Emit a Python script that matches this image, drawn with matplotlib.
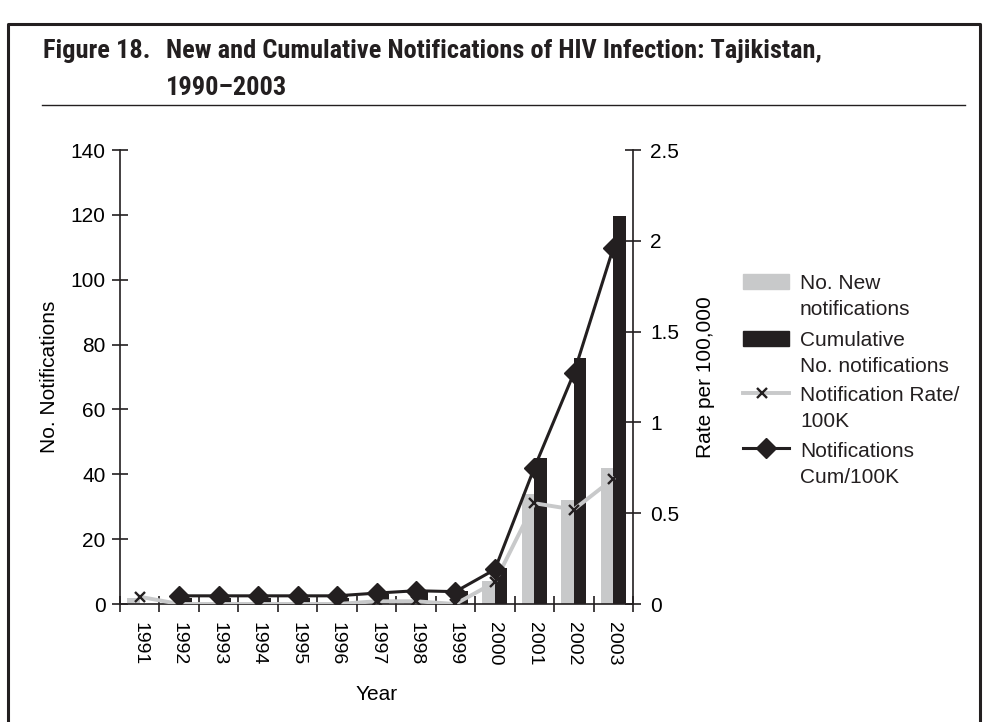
import matplotlib
matplotlib.use("Agg")
import matplotlib.pyplot as plt
import numpy as np
from matplotlib import font_manager
from matplotlib.lines import Line2D
from matplotlib.patches import Rectangle

years = ["1991", "1992", "1993", "1994", "1995", "1996", "1997", "1998", "1999",
         "2000", "2001", "2002", "2003"]
new_notif = [2, 0, 0, 0, 0, 0, 1, 1, 0, 7, 34, 32, 42]
cum_notif = [np.nan, 2, 2, 2, 2, 2, 3, 4, 4, 11, 45, 76, 119.5]
rate_100k = [0.04, 0, 0, 0, 0, 0, 0.015, 0.015, 0, 0.12, 0.555, 0.52, 0.69]
cum_rate_100k = [np.nan, 0.045, 0.045, 0.045, 0.045, 0.045, 0.06, 0.073, 0.068, 0.19, 0.75, 1.27, 1.96]
legend_labels = ["No. New\nnotifications", "Cumulative\nNo. notifications",
                 "Notification Rate/\n100K", "Notifications\nCum/100K"]

GRAY = "#c8c9ca"
BLACK = "#231f20"

plt.rcParams['font.family'] = ['Liberation Sans', 'DejaVu Sans']

W, H = 988, 722
fig = plt.figure(figsize=(W/100, H/100), dpi=100)
fx = lambda px: px / W
fy = lambda py: 1 - py / H

# outer frame
fig.add_artist(Line2D([fx(8), fx(8), fx(980), fx(980)], [0.0, fy(24), fy(24), 0.0],
                      transform=fig.transFigure, color=BLACK, lw=2.2))

# title font: prefer a condensed bold face
avail = {f.name for f in font_manager.fontManager.ttflist}
cand = [n for n in ['Roboto Condensed', 'Open Sans Condensed', 'Liberation Sans Narrow',
                    'DejaVu Sans Condensed'] if n in avail]
if cand:
    tfam, tsize, tstretch = [cand[0], 'DejaVu Sans'], 19, 'condensed'
else:
    tfam, tsize, tstretch = ['Roboto', 'DejaVu Sans'], 15, 'normal'
tkw = dict(fontsize=tsize, fontweight='bold', family=tfam, fontstretch=tstretch,
           color=BLACK, va='baseline', ha='left')
fig.text(fx(43), fy(58), "Figure 18.", **tkw)
fig.text(fx(166), fy(58), "New and Cumulative Notifications of HIV Infection: Tajikistan,", **tkw)
fig.text(fx(166), fy(95), "1990\u20132003", **tkw)
fig.add_artist(Line2D([fx(42), fx(965)], [fy(105), fy(105)],
                      transform=fig.transFigure, color=BLACK, lw=1.0))

FS = 15
ax = fig.add_axes([fx(120), fy(604), (633-120)/W, (604-150)/H])
x = np.arange(len(years))
w = 0.315
ax.bar(x - w/2, new_notif, width=w, color=GRAY, zorder=2)
ax.bar(x + w/2, cum_notif, width=w, color=BLACK, zorder=2)
ax.set_ylim(0, 140)
ax.set_xlim(-0.5, len(years) - 0.5)
ax.set_yticks(np.arange(0, 141, 20))
ax.set_xticks(np.arange(-0.5, len(years), 1.0))
ax.set_xticklabels([])
ax.set_xticks(x, minor=True)
ax.set_xticklabels(years, minor=True, rotation=270, fontsize=14)
ax.tick_params(axis='x', which='minor', length=0, pad=13)
ax.tick_params(axis='x', which='major', direction='inout', length=11, width=1.2, color=BLACK)
ax.tick_params(axis='y', direction='inout', length=11, width=1.2, labelsize=FS, pad=5, color=BLACK)
ax.spines['top'].set_visible(False)
ax.spines['right'].set_visible(False)
for s in ['left', 'bottom']:
    ax.spines[s].set_color(BLACK)
    ax.spines[s].set_linewidth(1.2)
ax.set_ylabel("No. Notifications", fontsize=FS, labelpad=8)
ax.set_xlabel("Year", fontsize=FS, labelpad=14)

ax2 = ax.twinx()
ax2.plot(x, rate_100k, color=GRAY, lw=2.8, marker='x', markersize=7.5, mec=BLACK, mew=1.7, zorder=3)
ax2.plot(x, cum_rate_100k, color=BLACK, lw=2.2, marker='D', markersize=10, mfc=BLACK, mec=BLACK, zorder=4)
ax2.set_ylim(0, 2.5)
ax2.set_yticks([0, 0.5, 1, 1.5, 2, 2.5])
ax2.set_yticklabels(["0", "0.5", "1", "1.5", "2", "2.5"])
ax2.tick_params(axis='y', direction='inout', length=11, width=1.2, labelsize=FS, pad=7, color=BLACK)
for s in ['top', 'left', 'bottom']:
    ax2.spines[s].set_visible(False)
ax2.spines['right'].set_color(BLACK)
ax2.spines['right'].set_linewidth(1.2)
ax2.set_ylabel("Rate per 100,000", fontsize=FS, rotation=90, labelpad=12)

# legend (handles aligned with the first text line, as in the reference)
centers = [285, 342, 397, 453]   # first-line centre of each entry, px
hx0, hx1, tx = 743, 789, 800
for i, (lab, yc) in enumerate(zip(legend_labels, centers)):
    if i < 2:
        col = GRAY if i == 0 else BLACK
        fig.add_artist(Rectangle((fx(hx0), fy(yc + 4)), (hx1 - hx0)/W, 15/H,
                                 transform=fig.transFigure, color=col))
    elif i == 2:
        fig.add_artist(Line2D([fx(hx0), fx(hx1)], [fy(yc - 4), fy(yc - 4)], transform=fig.transFigure,
                              color=GRAY, lw=2.8, zorder=5))
        fig.add_artist(Line2D([fx(762)], [fy(yc - 4)], transform=fig.transFigure,
                              lw=0, marker='x', markersize=7.5, mec=BLACK, mew=1.7, zorder=6))
    else:
        fig.add_artist(Line2D([fx(hx0), fx(hx1)], [fy(yc - 5), fy(yc - 5)], transform=fig.transFigure,
                              color=BLACK, lw=2.2, zorder=5))
        fig.add_artist(Line2D([fx(766)], [fy(yc - 5)], transform=fig.transFigure,
                              color=BLACK, lw=0, marker='D', markersize=10, zorder=6))
    fig.text(fx(tx), fy(yc - 11), lab, fontsize=FS, va='top', ha='left', color=BLACK,
             linespacing=1.45)

fig.savefig("out.png", dpi=100)
